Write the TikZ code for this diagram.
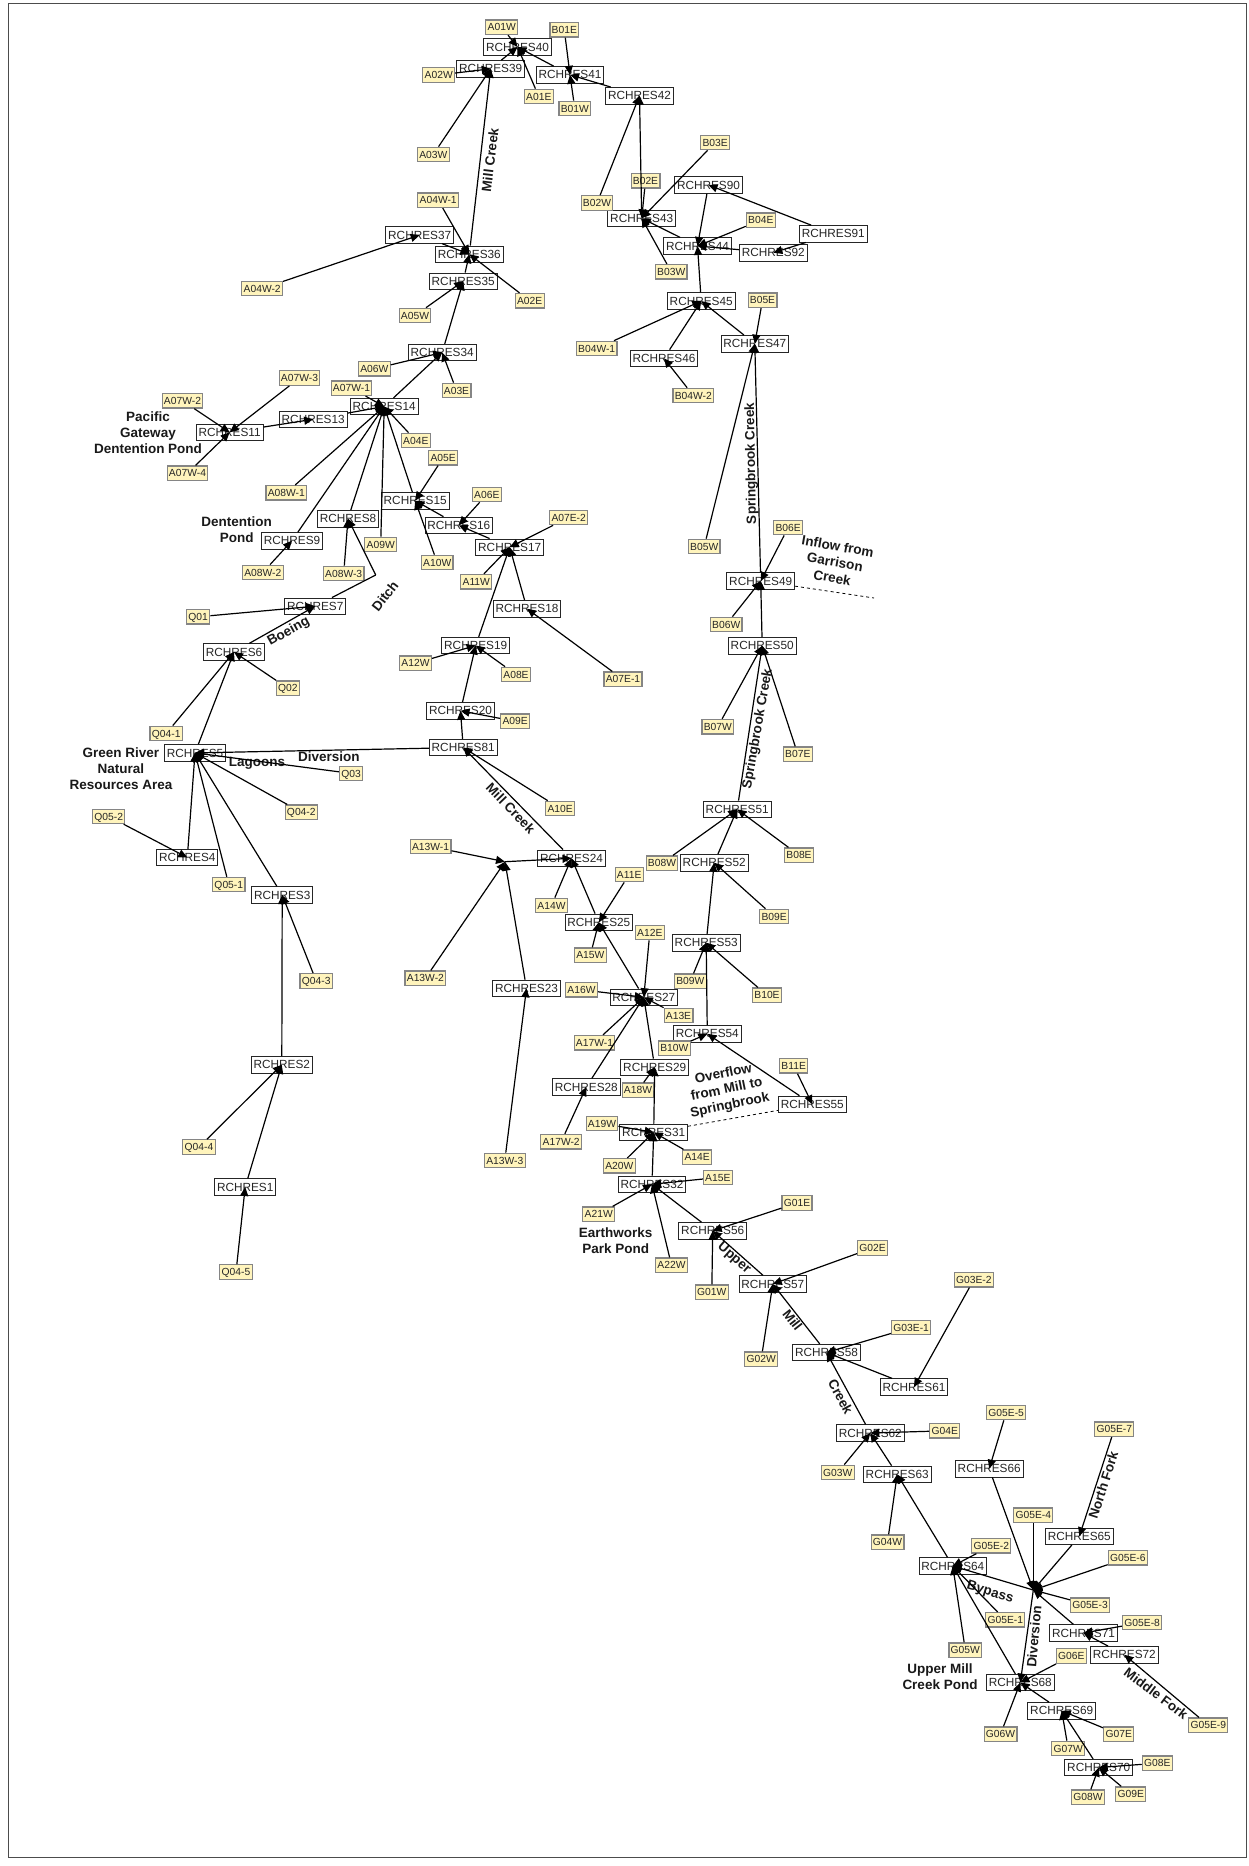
\documentclass[tikz,border=0pt]{standalone}
\usepackage{fontspec}
\setmainfont{Liberation Sans}
\usetikzlibrary{arrows.meta}
\definecolor{yfill}{HTML}{FFF4BC}
\definecolor{ydraw}{HTML}{858585}
\newcommand{\rnode}[3]{\node[rch] (R#1) at (#2,#3) {RCHRES#1};}
\newcommand{\ynode}[4]{\node[yel] (#1) at (#2,#3) {#4};}
\newcommand{\fl}[2]{\draw[flow] (#1) -- (#2.center);}
\tikzset{
 rch/.style={draw=black!85, line width=0.8pt, fill=white, font=\fontsize{11.8}{12}\selectfont, inner xsep=2.4pt, inner ysep=0pt, minimum height=16.5pt, text height=8.6pt, text depth=0.4pt, text=black!85},
 yel/.style={draw=ydraw, line width=1.2pt, fill=yfill, font=\fontsize{10.3}{11}\selectfont, inner xsep=1.8pt, inner ysep=0pt, minimum height=14.5pt, text height=7.5pt, text depth=0.2pt, text=black!85},
 flow/.style={line width=1.2pt, black, -{Triangle[length=9pt,width=8pt]}},
 lab/.style={font=\fontsize{13.5}{16}\selectfont\bfseries, align=center, text=black!90, inner sep=0pt},
 dsh/.style={line width=0.8pt, dashed, dash pattern=on 3pt off 3pt},
}
\begin{document}
\begin{tikzpicture}[x=1pt,y=-1pt]
\useasboundingbox (0,0) rectangle (1249,1866);
\fill[white] (0,0) rectangle (1249,1866);
\draw[line width=1pt, black!70] (8,3) rectangle (1246,1857);
% ---------- RCHRES nodes ----------
\rnode{40}{517.5}{47}
\rnode{39}{490.7}{68.8}
\rnode{41}{570}{74.8}
\rnode{42}{639.5}{95.7}
\rnode{43}{641.7}{218.3}
\rnode{90}{708.5}{185}
\rnode{91}{833.3}{233.8}
\rnode{44}{697.5}{246}
\rnode{92}{773.3}{252.7}
\rnode{45}{701.2}{301}
\rnode{47}{754.8}{343.7}
\rnode{46}{664}{358.3}
\rnode{37}{419.7}{235}
\rnode{36}{469.3}{254.2}
\rnode{35}{463.2}{281.2}
\rnode{34}{442.2}{352.5}
\rnode{14}{384.2}{406.5}
\rnode{13}{313.2}{419.3}
\rnode{11}{229.7}{432.3}
\rnode{15}{415.2}{500.7}
\rnode{16}{458.8}{525.3}
\rnode{8}{348}{518.7}
\rnode{9}{292}{540.7}
\rnode{17}{509.7}{547.2}
\rnode{18}{527}{608.7}
\rnode{7}{315.2}{606.2}
\rnode{6}{234}{652}
\rnode{19}{475.7}{645.5}
\rnode{49}{760.7}{581}
\rnode{50}{762.2}{645.8}
\rnode{20}{460.5}{710.8}
\rnode{81}{463.2}{747.5}
\rnode{5}{195}{752.9}
\rnode{4}{187.3}{857.5}
\rnode{3}{282.2}{895}
\rnode{2}{281.8}{1064.8}
\rnode{1}{245.2}{1187}
\rnode{51}{737.2}{809.3}
\rnode{24}{571.5}{858.3}
\rnode{52}{714.2}{862.7}
\rnode{25}{598.8}{922.3}
\rnode{53}{706.2}{942.7}
\rnode{23}{526.5}{988.3}
\rnode{27}{643.8}{997.2}
\rnode{54}{707.3}{1033.8}
\rnode{29}{654.7}{1067.2}
\rnode{28}{586.3}{1087}
\rnode{55}{812.3}{1104.3}
\rnode{31}{653.7}{1132.3}
\rnode{32}{652}{1184.2}
\rnode{56}{712.7}{1230.8}
\rnode{57}{772.8}{1284}
\rnode{58}{826.5}{1352.5}
\rnode{61}{914}{1387}
\rnode{62}{870.3}{1433}
\rnode{63}{897.2}{1474.3}
\rnode{66}{989.2}{1468.7}
\rnode{65}{1079.3}{1536.3}
\rnode{64}{952.8}{1566}
\rnode{71}{1083.5}{1633}
\rnode{72}{1124.3}{1654.7}
\rnode{68}{1020.3}{1682.5}
\rnode{69}{1061.7}{1710.8}
\rnode{70}{1098.7}{1767.5}
% ---------- junctions ----------
\coordinate (j1) at (505,861.7);
\coordinate (j2) at (1033.3,1590);
\coordinate (j3) at (375.7,575);
\coordinate (g1) at (874,598);
% ---------- land segment nodes ----------
\ynode{A01W}{501.7}{27.3}{A01W}
\ynode{B01E}{564.3}{29.8}{B01E}
\ynode{A02W}{438.7}{75}{A02W}
\ynode{A01E}{538.8}{96.5}{A01E}
\ynode{B01W}{574.8}{108.5}{B01W}
\ynode{A03W}{433.3}{154.5}{A03W}
\ynode{A04Wa}{438.2}{200.2}{A04W-1}
\ynode{A04Wb}{262.2}{288.5}{A04W-2}
\ynode{A02E}{529.7}{300.7}{A02E}
\ynode{A05W}{415}{315.5}{A05W}
\ynode{A06W}{374.3}{368.8}{A06W}
\ynode{A03E}{456.5}{390.5}{A03E}
\ynode{A07Wc}{299.5}{378}{A07W-3}
\ynode{A07Wa}{351.5}{388.2}{A07W-1}
\ynode{A07Wb}{182.5}{400.8}{A07W-2}
\ynode{A07Wd}{187.5}{473.2}{A07W-4}
\ynode{A04E}{415.8}{440.5}{A04E}
\ynode{A05E}{443.2}{457.7}{A05E}
\ynode{A08Wa}{286.3}{492.8}{A08W-1}
\ynode{A06E}{486.8}{494.5}{A06E}
\ynode{A09W}{380.7}{544.5}{A09W}
\ynode{A10W}{437.2}{562.5}{A10W}
\ynode{A11W}{476.3}{581.7}{A11W}
\ynode{A07Eb}{568.7}{517.5}{A07E-2}
\ynode{A08Wb}{262.8}{572.5}{A08W-2}
\ynode{A08Wc}{343.7}{573.5}{A08W-3}
\ynode{Q01}{198.2}{616.8}{Q01}
\ynode{Q02}{287.8}{688.2}{Q02}
\ynode{Q04a}{166.2}{733.5}{Q04-1}
\ynode{A12W}{415.5}{663.3}{A12W}
\ynode{A08E}{516}{674.5}{A08E}
\ynode{A07Ea}{623}{679.3}{A07E-1}
\ynode{A09E}{515.2}{721.3}{A09E}
\ynode{B02E}{645.5}{180.8}{B02E}
\ynode{B03E}{715.2}{142.5}{B03E}
\ynode{B02W}{597}{203}{B02W}
\ynode{B04E}{760.8}{220.2}{B04E}
\ynode{B03W}{671.2}{271.8}{B03W}
\ynode{B05E}{762.5}{300.2}{B05E}
\ynode{B04Wa}{596.7}{348.5}{B04W-1}
\ynode{B04Wb}{693.3}{395.5}{B04W-2}
\ynode{B05W}{704.2}{546.5}{B05W}
\ynode{B06E}{788.2}{527.5}{B06E}
\ynode{B06W}{726.2}{624.5}{B06W}
\ynode{B07W}{717.8}{726.7}{B07W}
\ynode{B07E}{797.8}{754.2}{B07E}
\ynode{Q03}{351}{773.4}{Q03}
\ynode{Q04b}{301.3}{812.3}{Q04-2}
\ynode{Q05b}{108.7}{816.4}{Q05-2}
\ynode{Q05a}{228.8}{884.6}{Q05-1}
\ynode{Q04c}{316.2}{980.9}{Q04-3}
\ynode{Q04d}{199}{1147.1}{Q04-4}
\ynode{Q04e}{236}{1272.1}{Q04-5}
\ynode{A13Wa}{430.6}{846.5}{A13W-1}
\ynode{A13Wb}{425.4}{978.3}{A13W-2}
\ynode{A10E}{560.2}{808.5}{A10E}
\ynode{B08W}{662}{863.2}{B08W}
\ynode{B08E}{799}{855.2}{B08E}
\ynode{A11E}{629.2}{874.5}{A11E}
\ynode{A14W}{551.5}{905.5}{A14W}
\ynode{B09E}{774.2}{916.5}{B09E}
\ynode{A12E}{649.8}{932.5}{A12E}
\ynode{A15W}{590.3}{955.2}{A15W}
\ynode{B09W}{690.3}{981.3}{B09W}
\ynode{A16W}{581.5}{989.8}{A16W}
\ynode{B10E}{767}{995.3}{B10E}
\ynode{A13E}{678.5}{1015.5}{A13E}
\ynode{A17Wa}{594.5}{1042.7}{A17W-1}
\ynode{B10W}{674.3}{1048.3}{B10W}
\ynode{B11E}{793.7}{1065.8}{B11E}
\ynode{A18W}{638}{1090.3}{A18W}
\ynode{A19W}{602}{1123.5}{A19W}
\ynode{A17Wb}{561.2}{1141.7}{A17W-2}
\ynode{A13Wc}{504.8}{1160.5}{A13W-3}
\ynode{A14E}{697.2}{1157.2}{A14E}
\ynode{A20W}{619.3}{1165.8}{A20W}
\ynode{A15E}{717.8}{1177.5}{A15E}
\ynode{G01E}{797}{1203}{G01E}
\ynode{A21W}{598.7}{1214.2}{A21W}
\ynode{A22W}{671.5}{1265.3}{A22W}
\ynode{G02E}{872.5}{1248}{G02E}
\ynode{G01W}{711.8}{1292.2}{G01W}
\ynode{G02W}{761.2}{1359.2}{G02W}
\ynode{G03Eb}{973.8}{1279.7}{G03E-2}
\ynode{G03Ea}{911.2}{1327.5}{G03E-1}
\ynode{G05Ee}{1006.2}{1412.5}{G05E-5}
\ynode{G05Eg}{1114.3}{1429.2}{G05E-7}
\ynode{G04E}{944.8}{1430.8}{G04E}
\ynode{G03W}{837.8}{1472.5}{G03W}
\ynode{G05Ed}{1033.3}{1515.2}{G05E-4}
\ynode{G04W}{887.5}{1542.2}{G04W}
\ynode{G05Eb}{991.3}{1545.8}{G05E-2}
\ynode{G05Ef}{1127.8}{1557.8}{G05E-6}
\ynode{G05Ec}{1090}{1605.2}{G05E-3}
\ynode{G05Ea}{1005.3}{1619.8}{G05E-1}
\ynode{G05Eh}{1142.2}{1622.5}{G05E-8}
\ynode{G05W}{965.3}{1650.2}{G05W}
\ynode{G06E}{1071.2}{1656}{G06E}
\ynode{G06W}{1000.5}{1734.2}{G06W}
\ynode{G07E}{1118.7}{1734.2}{G07E}
\ynode{G05Ei}{1208.3}{1725.2}{G05E-9}
\ynode{G07W}{1068.2}{1748.5}{G07W}
\ynode{G08E}{1157.3}{1763.2}{G08E}
\ynode{G08W}{1088}{1797.2}{G08W}
\ynode{G09E}{1130.7}{1794.2}{G09E}
% ---------- labels ----------
\node[lab, rotate=83] (lmill1) at (490,160) {Mill Creek};
\node[lab] (lpac) at (148,432.3) {Pacific\\Gateway\\Dentention Pond};
\node[lab] (lden) at (236.7,530) {Dentention\\Pond};
\node[lab, rotate=52] (lditch) at (385,596) {Ditch};
\node[lab, rotate=29] (lboe) at (288.7,631.7) {Boeing};
\node[lab, rotate=-10] (linf) at (835,562) {Inflow from\\Garrison\\Creek};
\node[lab, rotate=91] (lspr1) at (751.5,463.3) {Springbrook Creek};
\node[lab, rotate=80] (lspr2) at (758,729) {Springbrook Creek};
\node[lab] (lgreen) at (121,768.6) {Green River\\Natural\\Resources Area};
\node[lab] (llag) at (257,763.2) {Lagoons};
\node[lab] (ldiv1) at (328.8,757.1) {Diversion};
\node[lab, rotate=-46] (lmill2) at (510.7,808.3) {Mill Creek};
\node[lab, rotate=11.5] (lover) at (726.7,1090) {Overflow\\from Mill to\\Springbrook};
\node[lab] (learth) at (615.7,1241) {Earthworks\\Park Pond};
\node[lab, rotate=-41] (lupper) at (734,1258.3) {Upper};
\node[lab, rotate=-52] (lmill3) at (792.7,1320) {Mill};
\node[lab, rotate=-62] (lcreek) at (840.7,1396.7) {Creek};
\node[lab, rotate=72] (lnorth) at (1103.3,1485) {North Fork};
\node[lab, rotate=-17] (lbyp) at (990,1592.7) {Bypass};
\node[lab, rotate=85] (ldiv2) at (1034,1636.7) {Diversion};
\node[lab] (lumcp) at (940,1677) {Upper Mill\\Creek Pond};
\node[lab, rotate=-37] (lmid) at (1156,1693.3) {Middle Fork};
% ---------- dashed ----------
\draw[dsh] (R49) -- (g1);
\draw[dsh] (R31) -- (R55);
% ---------- flows: Springbrook ----------
\fl{A01W}{R40} \fl{A01E}{R40} \fl{R39}{R40} \fl{R41}{R40}
\fl{B01E}{R41} \fl{B01W}{R41} \fl{R42}{R41}
\fl{B02W}{R42} \fl{R43}{R42}
\fl{B02E}{R43} \fl{B03E}{R43} \fl{B03W}{R43} \fl{R44}{R43}
\fl{R90}{R44} \fl{R91}{R90} \fl{R91}{R92} \fl{R92}{R44} \fl{B04E}{R44} \fl{R45}{R44}
\fl{B04Wa}{R45} \fl{R46}{R45} \fl{B04Wb}{R46} \fl{R47}{R45}
\fl{B05E}{R47} \fl{B05W}{R47} \fl{R49}{R47}
\fl{B06E}{R49} \fl{B06W}{R49} \fl{R50}{R49}
\fl{B07W}{R50} \fl{B07E}{R50} \fl{R51}{R50}
\fl{B08W}{R51} \fl{B08E}{R51} \fl{R52}{R51}
\fl{B09E}{R52} \fl{R53}{R52}
\fl{B09W}{R53} \fl{B10E}{R53} \fl{R54}{R53}
\fl{B10W}{R54} \fl{R55}{R54} \fl{B11E}{R55}
% ---------- flows: Mill Creek ----------
\fl{A02W}{R39} \fl{A03W}{R39} \fl{R36}{R39}
\fl{A04Wa}{R36} \fl{R37}{R36} \fl{A04Wb}{R37} \fl{A02E}{R36} \fl{R35}{R36}
\fl{A05W}{R35} \fl{R34}{R35}
\fl{A06W}{R34} \fl{A03E}{R34} \fl{R14}{R34}
\fl{A07Wa}{R14} \fl{R13}{R14} \fl{R11}{R13}
\fl{A07Wb}{R11} \fl{A07Wc}{R11} \fl{A07Wd}{R11}
\fl{A08Wa}{R14} \fl{R9}{R14} \fl{A08Wb}{R9}
\fl{R8}{R14} \fl{A08Wc}{R8} \fl{j3}{R8}
\draw[line width=1.2pt] (R7) -- (j3);
\fl{Q01}{R7} \fl{R6}{R7}
\fl{Q02}{R6} \fl{Q04a}{R6} \fl{R5}{R6}
\fl{A09W}{R14} \fl{A04E}{R14} \fl{R15}{R14}
\fl{A05E}{R15} \fl{A10W}{R15} \fl{R16}{R15}
\fl{A06E}{R16} \fl{R17}{R16}
\fl{A07Eb}{R17} \fl{A11W}{R17} \fl{R18}{R17} \fl{A07Ea}{R18} \fl{R19}{R17}
\fl{A12W}{R19} \fl{A08E}{R19} \fl{R20}{R19}
\fl{A09E}{R20} \fl{R81}{R20}
\fl{R81}{R5} \fl{A10E}{R81} \fl{R24}{R81}
\fl{R4}{R5} \fl{Q05b}{R4} \fl{Q05a}{R5} \fl{Q03}{R5} \fl{Q04b}{R5}
\fl{R3}{R5} \fl{Q04c}{R3} \fl{R2}{R3} \fl{Q04d}{R2} \fl{R1}{R2} \fl{Q04e}{R1}
% ---------- flows: lower Mill Creek ----------
\fl{j1}{R24} \fl{A13Wa}{j1} \fl{A13Wb}{j1} \fl{R23}{j1} \fl{A13Wc}{R23}
\fl{A14W}{R24} \fl{R25}{R24}
\fl{A11E}{R25} \fl{A15W}{R25} \fl{R27}{R25}
\fl{A12E}{R27} \fl{A16W}{R27} \fl{A13E}{R27} \fl{A17Wa}{R27}
\fl{R28}{R27} \fl{A17Wb}{R28} \fl{R29}{R27}
\fl{A18W}{R29} \fl{R31}{R29}
\fl{A19W}{R31} \fl{A14E}{R31} \fl{A20W}{R31} \fl{R32}{R31}
\fl{A15E}{R32} \fl{A21W}{R32} \fl{A22W}{R32} \fl{R56}{R32}
\fl{G01E}{R56} \fl{G01W}{R56} \fl{R57}{R56}
\fl{G02E}{R57} \fl{G02W}{R57} \fl{R58}{R57}
\fl{G03Ea}{R58} \fl{R61}{R58} \fl{G03Eb}{R61} \fl{R62}{R58}
\fl{G04E}{R62} \fl{G03W}{R62} \fl{R63}{R62}
\fl{G04W}{R63} \fl{R64}{R63}
\fl{G05Eb}{R64} \fl{j2}{R64} \fl{G05W}{R64} \fl{G05Ea}{R64} \fl{R68}{R64}
\fl{R66}{j2} \fl{G05Ee}{R66} \fl{G05Ed}{j2} \fl{R65}{j2} \fl{G05Eg}{R65}
\fl{G05Ef}{j2} \fl{G05Ec}{j2} \fl{R71}{j2} \fl{G05Eh}{R71} \fl{R72}{R71} \fl{G05Ei}{R72}
\fl{j2}{R68} \fl{G06E}{R68} \fl{G06W}{R68} \fl{R69}{R68}
\fl{G07E}{R69} \fl{G07W}{R69} \fl{R70}{R69}
\fl{G08E}{R70} \fl{G08W}{R70} \fl{G09E}{R70}
\end{tikzpicture}
\end{document}
